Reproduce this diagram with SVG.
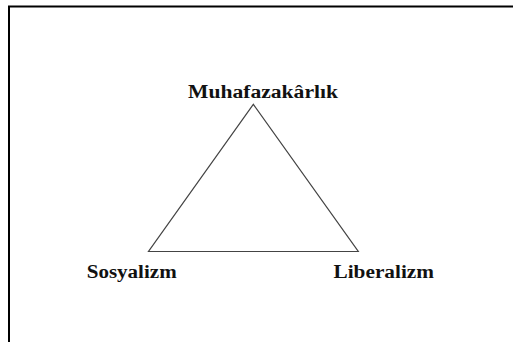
<svg xmlns="http://www.w3.org/2000/svg" width="513" height="342" viewBox="0 0 513 342">
<style>
.lbl{font-family:"Liberation Serif","Times New Roman",serif;font-weight:bold;font-size:18px;fill:#111}
.edge{fill:none;stroke:#444;stroke-width:1.2;stroke-linejoin:miter}
</style>
<rect width="513" height="342" fill="#fff"/>
<path d="M9,342 V6.5 H513" fill="none" stroke="#000" stroke-width="2"/>
<g id="connectors">
<path class="edge" d="M253.3,104.3 L148.5,251.5 L358.3,251.5 Z"/>
</g>
<g id="node-muhafazakarlik">
<text class="lbl" x="188" y="97.7" textLength="150" lengthAdjust="spacingAndGlyphs">Muhafazakârlık</text>
</g>
<g id="node-sosyalizm">
<text class="lbl" x="86.7" y="277.5" textLength="90" lengthAdjust="spacingAndGlyphs">Sosyalizm</text>
</g>
<g id="node-liberalizm">
<text class="lbl" x="333.5" y="278" textLength="100.5" lengthAdjust="spacingAndGlyphs">Liberalizm</text>
</g>
</svg>
